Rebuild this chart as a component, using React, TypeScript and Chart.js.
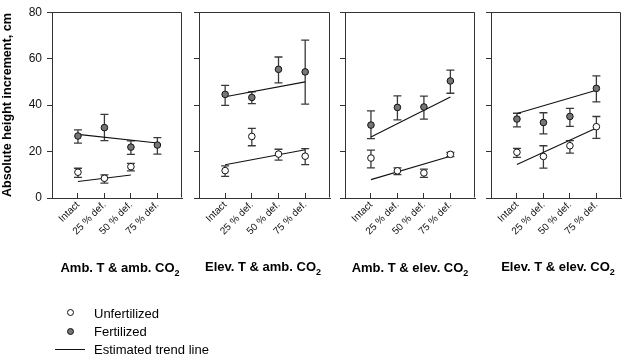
import React, { useEffect, useRef } from 'react';
import { Chart, registerables } from 'chart.js';

Chart.register(...registerables);

// ---------- data ----------
const categories = ['Intact', '25 % def.', '50 % def.', '75 % def.'];
const yTicks = [0, 20, 40, 60, 80];
const yAxisTitle = 'Absolute height increment, cm';
const panelTitles = ['Amb. T & amb. CO', 'Elev. T & amb. CO', 'Amb. T & elev. CO', 'Elev. T & elev. CO'];
const titleSub = '2';
const legendLabels = ['Unfertilized', 'Fertilized', 'Estimated trend line'];

// Panel 1: Amb. T & amb. CO2
const p1FertMean = [26.7, 30.3, 21.9, 22.8];
const p1FertLow = [23.6, 24.7, 18.8, 18.9];
const p1FertHigh = [29.3, 36.0, 24.6, 26.0];
const p1UnfMean = [11.1, 8.5, 13.5, null];
const p1UnfLow = [8.9, 6.4, 11.7, null];
const p1UnfHigh = [12.8, 10.0, 14.9, null];
const p1FertTrendX = [0, 3];
const p1FertTrendY = [27.4, 23.7];
const p1UnfTrendX = [0, 2];
const p1UnfTrendY = [7.1, 9.9];

// Panel 2: Elev. T & amb. CO2
const p2FertMean = [44.6, 43.3, 55.4, 54.3];
const p2FertLow = [39.9, 40.6, 49.6, 40.4];
const p2FertHigh = [48.5, 45.7, 60.7, 68.0];
const p2UnfMean = [11.8, 26.5, 18.9, 18.0];
const p2UnfLow = [9.3, 22.5, 16.3, 14.4];
const p2UnfHigh = [13.8, 30.0, 21.0, 21.3];
const p2FertTrendX = [0, 3];
const p2FertTrendY = [43.6, 50.0];
const p2UnfTrendX = [0, 3];
const p2UnfTrendY = [14.3, 20.8];

// Panel 3: Amb. T & elev. CO2
const p3FertMean = [31.4, 39.0, 39.2, 50.4];
const p3FertLow = [25.6, 33.6, 34.0, 45.1];
const p3FertHigh = [37.5, 44.0, 43.9, 55.1];
const p3UnfMean = [17.2, 11.7, 10.8, 18.8];
const p3UnfLow = [13.0, 10.1, 8.9, 17.8];
const p3UnfHigh = [20.6, 13.0, 12.4, 19.6];
const p3FertTrendX = [0, 3];
const p3FertTrendY = [26.3, 43.5];
const p3UnfTrendX = [0, 3];
const p3UnfTrendY = [7.9, 18.0];

// Panel 4: Elev. T & elev. CO2
const p4FertMean = [34.0, 32.5, 35.1, 47.2];
const p4FertLow = [30.6, 27.6, 30.8, 41.4];
const p4FertHigh = [36.5, 36.7, 38.6, 52.6];
const p4UnfMean = [19.7, 17.9, 22.5, 30.7];
const p4UnfLow = [17.5, 12.9, 19.3, 25.7];
const p4UnfHigh = [21.4, 22.5, 24.7, 35.1];
const p4FertTrendX = [0, 3];
const p4FertTrendY = [36.4, 46.4];
const p4UnfTrendX = [0, 3];
const p4UnfTrendY = [14.4, 30.1];

const panels = [
  { fert: [p1FertMean, p1FertLow, p1FertHigh], unf: [p1UnfMean, p1UnfLow, p1UnfHigh], ft: [p1FertTrendX, p1FertTrendY], ut: [p1UnfTrendX, p1UnfTrendY] },
  { fert: [p2FertMean, p2FertLow, p2FertHigh], unf: [p2UnfMean, p2UnfLow, p2UnfHigh], ft: [p2FertTrendX, p2FertTrendY], ut: [p2UnfTrendX, p2UnfTrendY] },
  { fert: [p3FertMean, p3FertLow, p3FertHigh], unf: [p3UnfMean, p3UnfLow, p3UnfHigh], ft: [p3FertTrendX, p3FertTrendY], ut: [p3UnfTrendX, p3UnfTrendY] },
  { fert: [p4FertMean, p4FertLow, p4FertHigh], unf: [p4UnfMean, p4UnfLow, p4UnfHigh], ft: [p4FertTrendX, p4FertTrendY], ut: [p4UnfTrendX, p4UnfTrendY] },
];

// ---------- layout (pixels) ----------
const W = 625;
const H = 357;
const plotTop = 6;
const plotBottom = 198;
const panelGeom = [
  { left: 52, right: 184.5 },
  { left: 199, right: 333 },
  { left: 345, right: 478 },
  { left: 491, right: 624 },
];
const titleCenters = [{ x: 120, y: 268 }, { x: 263, y: 267 }, { x: 410, y: 268 }, { x: 558, y: 267 }];
const FONT = '"Liberation Sans", Arial, Helvetica, sans-serif';
const AXIS = '#333';
const FERT_FILL = '#767676';

const errorBarPlugin = {
  id: 'errorBars',
  beforeDatasetsDraw(chart: any, _args: any, opts: any) {
    const { ctx, scales } = chart;
    const xs = scales.x, ys = scales.y;
    const series = opts.series as any[];
    ctx.save();
    ctx.strokeStyle = '#3a3a3a';
    ctx.lineWidth = 1.3;
    for (const s of series) {
      const [mean, lo, hi] = s;
      for (let i = 0; i < mean.length; i++) {
        if (mean[i] == null) continue;
        const x = xs.getPixelForValue(i);
        const y1 = ys.getPixelForValue(lo[i]);
        const y2 = ys.getPixelForValue(hi[i]);
        ctx.beginPath();
        ctx.moveTo(x, y1); ctx.lineTo(x, y2);
        ctx.moveTo(x - 4, y1); ctx.lineTo(x + 4, y1);
        ctx.moveTo(x - 4, y2); ctx.lineTo(x + 4, y2);
        ctx.stroke();
      }
    }
    ctx.restore();
  },
};

const boxPlugin = {
  id: 'frameBox',
  afterDraw(chart: any) {
    const { ctx, chartArea } = chart;
    const l = Math.round(chartArea.left) + 0.5;
    const t = Math.round(chartArea.top) + 0.5;
    const r = Math.round(chartArea.right) - 0.5;
    const b = Math.round(chartArea.bottom) - 0.5;
    ctx.save();
    ctx.strokeStyle = AXIS;
    ctx.lineWidth = 1;
    ctx.beginPath();
    ctx.moveTo(l, t); ctx.lineTo(r, t); ctx.lineTo(r, b);
    ctx.stroke();
    ctx.restore();
  },
};

function toPts(arr: (number | null)[]) {
  return arr.map((v, i) => (v == null ? null : { x: i, y: v })).filter(Boolean) as any[];
}

function PanelChart({ idx }: { idx: number }) {
  const ref = useRef<HTMLCanvasElement>(null);
  const first = idx === 0;
  const g = panelGeom[idx];
  const yW = first ? 52 : 10;
  const canvasLeft = g.left - yW;
  const padRight = 2;
  const cw = Math.round(g.right - canvasLeft + padRight);

  useEffect(() => {
    const p = panels[idx];
    const chart = new Chart(ref.current as HTMLCanvasElement, {
      type: 'scatter',
      data: {
        datasets: [
          {
            label: legendLabels[0],
            data: toPts(p.unf[0]),
            pointRadius: 3.3,
            pointBackgroundColor: '#fff',
            pointBorderColor: '#111',
            pointBorderWidth: 1,
            showLine: false,
            order: 0,
          } as any,
          {
            label: legendLabels[1],
            data: toPts(p.fert[0]),
            pointRadius: 3.3,
            pointBackgroundColor: FERT_FILL,
            pointBorderColor: '#111',
            pointBorderWidth: 1,
            showLine: false,
            order: 0,
          },
          {
            type: 'line',
            label: 'trend-unf',
            data: p.ut[0].map((x, i) => ({ x, y: p.ut[1][i] })),
            borderColor: '#111',
            borderWidth: 1.1,
            pointRadius: 0,
            fill: false,
            order: 1,
          },
          {
            type: 'line',
            label: 'trend-fert',
            data: p.ft[0].map((x, i) => ({ x, y: p.ft[1][i] })),
            borderColor: '#111',
            borderWidth: 1.1,
            pointRadius: 0,
            fill: false,
            order: 1,
          },
        ],
      },
      options: {
        animation: false,
        responsive: false,
        layout: { padding: { left: 0, right: padRight, top: plotTop, bottom: 0 } },
        plugins: {
          legend: { display: false },
          tooltip: { enabled: false },
          errorBars: { series: [p.fert, p.unf] },
        } as any,
        scales: {
          x: {
            type: 'linear',
            min: -0.98,
            max: 3.93,
            afterBuildTicks: (s: any) => {
              s.ticks = categories.map((_, i) => ({ value: i }));
            },
            afterFit: (s: any) => {
              s.height = H - plotBottom;
            },
            grid: { drawOnChartArea: false, tickLength: -5, color: AXIS, lineWidth: 1 },
            border: { color: AXIS, width: 1 },
            ticks: {
              callback: (v: any) => categories[v as number] ?? '',
              minRotation: 45,
              maxRotation: 45,
              autoSkip: false,
              padding: 6,
              color: '#111',
              font: { size: 10, family: FONT },
            },
          },
          y: {
            min: 0,
            max: 80,
            afterBuildTicks: (s: any) => {
              s.ticks = yTicks.map((v) => ({ value: v }));
            },
            afterFit: (s: any) => {
              s.width = yW;
            },
            grid: { drawOnChartArea: false, tickLength: 5, color: AXIS, lineWidth: 1 },
            border: { color: AXIS, width: 1 },
            ticks: {
              callback: (v: any) => (first ? String(v) : ''),
              padding: 5,
              color: '#111',
              font: { size: 12, family: FONT },
            },
            title: first
              ? {
                  display: true,
                  text: yAxisTitle,
                  color: '#000',
                  font: { size: 12.6, weight: 'bold', family: FONT },
                  padding: { top: 0, bottom: 0 },
                }
              : { display: false },
          },
        },
      } as any,
      plugins: [errorBarPlugin, boxPlugin],
    });
    return () => chart.destroy();
  }, []);

  return (
    <canvas
      ref={ref}
      width={cw}
      height={H}
      style={{ position: 'absolute', left: canvasLeft, top: 0, width: cw, height: H }}
    />
  );
}

const textBase: React.CSSProperties = {
  position: 'absolute',
  whiteSpace: 'nowrap',
  fontFamily: FONT,
  color: '#000',
  lineHeight: '15px',
};

export default function App() {
  const legendY = [312.5, 331, 349];
  return (
    <div style={{ position: 'absolute', left: 0, top: 0, width: W, height: H, background: '#fff', overflow: 'hidden' }}>
      {panelGeom.map((_, i) => (
        <PanelChart key={i} idx={i} />
      ))}
      {panelTitles.map((t, i) => (
        <div
          key={'t' + i}
          style={{
            ...textBase,
            left: titleCenters[i].x,
            top: titleCenters[i].y,
            transform: 'translate(-50%, -50%)',
            fontSize: 13,
            fontWeight: 'bold',
          }}
        >
          {t}
          <span style={{ fontSize: 9, position: 'relative', top: 4 }}>{titleSub}</span>
        </div>
      ))}
      {/* legend */}
      <div style={{ position: 'absolute', left: 66.5, top: legendY[0] - 3.5, width: 7, height: 7, boxSizing: 'border-box', border: '1px solid #111', borderRadius: '50%', background: '#fff' }} />
      <div style={{ position: 'absolute', left: 66.5, top: legendY[1] - 3.5, width: 7, height: 7, boxSizing: 'border-box', border: '1px solid #111', borderRadius: '50%', background: FERT_FILL }} />
      <div style={{ position: 'absolute', left: 55, top: Math.round(legendY[2]), width: 30, height: 0, borderTop: '1px solid #111' }} />
      {legendLabels.map((l, i) => (
        <div key={'l' + i} style={{ ...textBase, left: 94, top: legendY[i], transform: 'translateY(-50%)', fontSize: 13 }}>
          {l}
        </div>
      ))}
    </div>
  );
}
